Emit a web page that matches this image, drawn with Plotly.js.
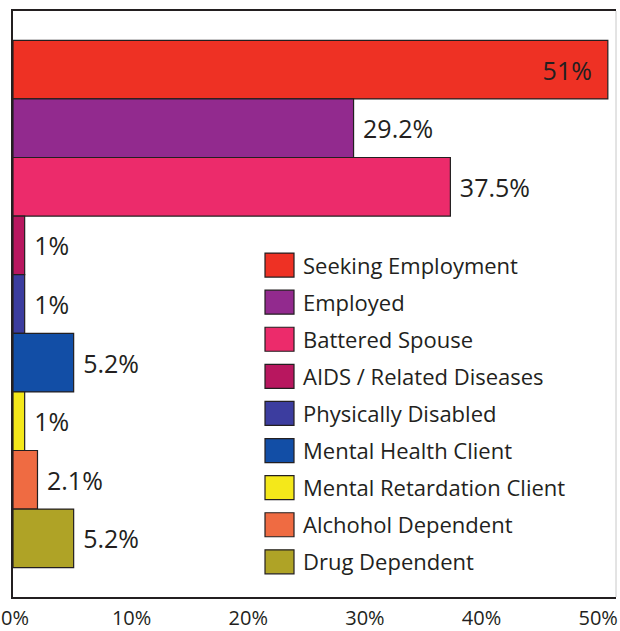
<!DOCTYPE html>
<html>
<head>
<meta charset="utf-8">
<script src="https://cdn.plot.ly/plotly-3.0.1.min.js"></script>
<style>html,body{margin:0;padding:0;background:#fff;}#chart{width:620px;height:631px;}</style>
</head>
<body>
<div id="chart"></div>
<script>
const categories = ['Seeking Employment','Employed','Battered Spouse','AIDS / Related Diseases','Physically Disabled','Mental Health Client','Mental Retardation Client','Alchohol Dependent','Drug Dependent'];
const values = [51, 29.2, 37.5, 1, 1, 5.2, 1, 2.1, 5.2];
const valueLabels = ['51%','29.2%','37.5%','1%','1%','5.2%','1%','2.1%','5.2%'];
const colors = ['#ee3124','#922a8e','#ec2b6b','#b8175f','#3c3d9f','#124ea6','#f4e81a','#ef6b42','#afa326'];
const tickValues = [0, 10, 20, 30, 40, 50];
const tickLabels = ['0%','10%','20%','30%','40%','50%'];

const FONT = 'Open Sans, Noto Sans, sans-serif';
const INK = '#231f20';

const traces = categories.map((c, i) => {
  const inside = values[i] > 45;
  return {
    type: 'bar',
    orientation: 'h',
    y: [i],
    x: [values[i]],
    name: c,
    legendgroup: c,
    width: 1,
    marker: {color: colors[i], line: {color: INK, width: 1.2}},
    text: [inside ? valueLabels[i] + '\u00a0\u00a0' : '\u00a0' + valueLabels[i]],
    textposition: inside ? 'inside' : 'outside',
    insidetextanchor: 'end',
    constraintext: 'none',
    cliponaxis: false,
    textfont: {family: FONT, size: 25, color: INK},
    hoverinfo: 'none'
  };
});

const layout = {
  width: 620,
  height: 631,
  margin: {l: 13, r: 4, t: 11, b: 34, autoexpand: false},
  paper_bgcolor: '#ffffff',
  plot_bgcolor: '#ffffff',
  barmode: 'overlay',
  showlegend: true,
  legend: {
    x: 0.4146, xanchor: 'left',
    y: 0.602, yanchor: 'top',
    bgcolor: 'rgba(0,0,0,0)',
    borderwidth: 0,
    tracegroupgap: 5.5,
    font: {family: FONT, size: 22, color: INK}
  },
  xaxis: {
    range: [0, 51.7],
    tickvals: tickValues,
    ticktext: tickLabels,
    showgrid: false,
    zeroline: false,
    showline: true,
    mirror: true,
    linecolor: INK,
    linewidth: 2,
    ticks: '',
    ticklabelshift: 2,
    ticklabelstandoff: 2,
    ticklabeloverflow: 'allow',
    tickfont: {family: FONT, size: 20, color: INK},
    fixedrange: true
  },
  yaxis: {
    range: [9, -1],
    showticklabels: false,
    showgrid: false,
    zeroline: false,
    showline: true,
    linecolor: INK,
    linewidth: 2,
    ticks: '',
    fixedrange: true
  },
  shapes: [{
    type: 'line', xref: 'paper', yref: 'paper',
    x0: 1, x1: 1, y0: 0, y1: 1,
    line: {color: '#c8c8c8', width: 1}
  }]
};

Plotly.newPlot('chart', traces, layout, {displayModeBar: false, staticPlot: true}).then(gd => {
  gd.querySelectorAll('.legend .legendpoints path').forEach(p => {
    p.setAttribute('d', 'M11,12H-18V-12H11Z');
  });
});
</script>
</body>
</html>
